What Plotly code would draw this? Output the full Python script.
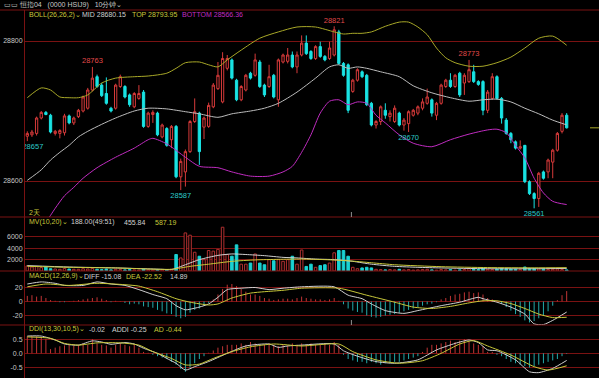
import plotly.graph_objects as go

# ---------------- data ----------------
candle_no = list(range(1, 118))

opens = [28664, 28666, 28668, 28690, 28698, 28694, 28668, 28668, 28669, 28693,
         28683, 28692, 28700, 28704, 28730, 28749, 28737, 28725, 28704, 28704,
         28735, 28735, 28723, 28706, 28718, 28727, 28678, 28695, 28697, 28663,
         28675, 28659, 28678, 28606, 28613, 28642, 28685, 28697, 28677, 28678,
         28706, 28732, 28713, 28761, 28773, 28744, 28716, 28730, 28754, 28751,
         28770, 28737, 28735, 28751, 28716, 28770, 28771, 28780, 28763, 28780,
         28797, 28785, 28775, 28792, 28778, 28775, 28780, 28813, 28768, 28766,
         28728, 28744, 28756, 28751, 28711, 28680, 28685, 28701, 28692, 28685,
         28697, 28680, 28682, 28694, 28697, 28704, 28711, 28716, 28694, 28711,
         28735, 28744, 28735, 28754, 28740, 28742, 28756, 28742, 28742, 28701,
         28718, 28749, 28718, 28687, 28668, 28656, 28647, 28651, 28599, 28582,
         28575, 28613, 28613, 28627, 28644, 28671, 28694]
highs = [28671, 28673, 28692, 28700, 28700, 28696, 28673, 28674, 28696, 28695,
         28692, 28703, 28722, 28733, 28763, 28752, 28740, 28748, 28706, 28739,
         28752, 28737, 28725, 28727, 28737, 28730, 28699, 28701, 28699, 28682,
         28677, 28680, 28680, 28632, 28645, 28687, 28718, 28699, 28692, 28712,
         28740, 28770, 28784, 28780, 28775, 28746, 28737, 28753, 28756, 28782,
         28773, 28739, 28766, 28753, 28775, 28782, 28790, 28785, 28785, 28808,
         28808, 28787, 28794, 28799, 28780, 28799, 28821, 28816, 28770, 28768,
         28746, 28761, 28758, 28753, 28713, 28687, 28708, 28711, 28701, 28708,
         28699, 28690, 28701, 28703, 28708, 28718, 28732, 28718, 28713, 28739,
         28746, 28754, 28753, 28756, 28754, 28773, 28766, 28744, 28744, 28730,
         28754, 28751, 28720, 28690, 28670, 28658, 28658, 28651, 28601, 28584,
         28613, 28615, 28632, 28646, 28670, 28697, 28697]
lows = [28657, 28663, 28665, 28688, 28694, 28668, 28665, 28661, 28665, 28681,
        28680, 28690, 28698, 28702, 28728, 28733, 28720, 28709, 28698, 28702,
        28733, 28718, 28706, 28704, 28716, 28676, 28676, 28683, 28664, 28661,
        28649, 28647, 28604, 28587, 28592, 28640, 28683, 28623, 28660, 28676,
        28704, 28730, 28711, 28758, 28745, 28714, 28714, 28728, 28745, 28749,
        28733, 28720, 28733, 28718, 28706, 28768, 28768, 28761, 28754, 28778,
        28780, 28773, 28773, 28776, 28771, 28773, 28778, 28766, 28749, 28697,
        28726, 28742, 28747, 28707, 28678, 28675, 28680, 28689, 28685, 28683,
        28678, 28672, 28670, 28692, 28694, 28701, 28709, 28692, 28687, 28709,
        28733, 28733, 28733, 28720, 28723, 28740, 28740, 28736, 28694, 28697,
        28716, 28716, 28682, 28666, 28654, 28645, 28645, 28597, 28580, 28561,
        28563, 28602, 28604, 28604, 28642, 28668, 28675]
closes = [28668, 28670, 28690, 28698, 28695, 28670, 28671, 28672, 28693, 28683,
          28690, 28701, 28720, 28730, 28747, 28735, 28722, 28711, 28700, 28737,
          28749, 28720, 28709, 28725, 28725, 28678, 28697, 28698, 28666, 28680,
          28651, 28678, 28606, 28628, 28642, 28685, 28699, 28642, 28690, 28708,
          28737, 28751, 28775, 28775, 28747, 28716, 28735, 28751, 28747, 28773,
          28735, 28723, 28749, 28720, 28773, 28780, 28780, 28763, 28780, 28797,
          28782, 28775, 28792, 28778, 28773, 28790, 28816, 28768, 28751, 28701,
          28744, 28759, 28749, 28709, 28680, 28685, 28706, 28694, 28697, 28704,
          28680, 28687, 28699, 28701, 28706, 28713, 28720, 28697, 28711, 28737,
          28744, 28735, 28751, 28723, 28751, 28759, 28742, 28738, 28701, 28727,
          28749, 28718, 28690, 28668, 28659, 28647, 28649, 28599, 28582, 28575,
          28611, 28604, 28630, 28644, 28668, 28694, 28676]

volumes = [900, 700, 800, 600, 700, 400, 350, 300, 450, 350,
           300, 300, 400, 350, 450, 300, 250, 350, 200, 300,
           250, 200, 250, 200, 150, 300, 200, 150, 250, 200,
           250, 300, 2900, 2300, 6700, 6300, 3300, 2600, 2000, 3600,
           3500, 3800, 7700, 2900, 2600, 4600, 1200, 1200, 1400, 3000,
           1400, 1100, 2000, 1800, 2000, 1700, 2000, 2600, 1200, 3700,
           800, 1200, 650, 950, 1100, 1400, 3200, 3600, 3600, 2600,
           650, 400, 540, 650, 540, 300, 250, 200, 250, 200,
           300, 200, 250, 150, 200, 250, 300, 200, 150, 250,
           200, 250, 150, 200, 250, 400, 300, 250, 500, 300,
           250, 350, 450, 400, 350, 300, 250, 700, 450, 400,
           350, 300, 250, 300, 350, 250, 188]

# Bollinger lines, read at sample candles
top_n = [1, 4, 6, 8, 10, 12, 14, 17, 20, 24, 27, 31, 33, 35, 38, 40, 42, 44, 47, 51,
         55, 59, 63, 67, 69, 71, 73, 75, 78, 81, 83, 85, 87, 89, 91, 93, 96, 99, 102,
         105, 108, 111, 114, 117]
top_v = [28719, 28733, 28730, 28720, 28719, 28719, 28723, 28740, 28747, 28749, 28750,
         28754, 28761, 28769, 28770, 28766, 28763, 28773, 28787, 28804, 28813, 28820,
         28820, 28813, 28810, 28811, 28811, 28813, 28821, 28827, 28827, 28820, 28809,
         28790, 28776, 28769, 28764, 28764, 28769, 28777, 28790, 28804, 28807, 28793.95]
mid_n = [1, 4, 6, 8, 10, 12, 14, 17, 20, 24, 27, 31, 35, 38, 42, 45, 49, 52, 55, 59,
         63, 66, 68, 70, 72, 74, 77, 81, 84, 88, 92, 96, 99, 102, 105, 108, 111, 114, 117]
mid_v = [28601, 28616, 28630, 28641, 28651, 28663, 28671, 28681, 28690, 28700, 28704,
         28703, 28699, 28696, 28691, 28696, 28700, 28704, 28711, 28727, 28747, 28763,
         28766, 28761, 28763, 28761, 28756, 28749, 28736, 28726, 28719, 28714, 28716,
         28717, 28713, 28704, 28696, 28687, 28680.15]
bot_n = [5, 6, 7, 9, 11, 13, 16, 20, 24, 27, 28, 31, 35, 38, 42, 45, 49, 53, 56, 58,
         60, 62, 64, 66, 68, 70, 72, 74, 76, 78, 81, 84, 88, 92, 96, 100, 102, 104,
         106, 108, 110, 112, 114, 117]
bot_v = [28541, 28551, 28561, 28579, 28591, 28604, 28619, 28634, 28647, 28659, 28661,
         28653, 28634, 28621, 28619, 28613, 28607, 28607, 28613, 28621, 28641, 28666,
         28697, 28714, 28716, 28709, 28713, 28711, 28694, 28683, 28666, 28654, 28649,
         28659, 28667, 28673, 28674, 28669, 28651, 28633, 28604, 28583, 28571, 28566.36]

# volume moving averages
mv10_n = [1, 10, 20, 30, 32, 35, 38, 42, 45, 48, 52, 56, 59, 63, 67, 71, 75, 80, 85,
          90, 100, 110, 117]
mv10_v = [950, 700, 540, 300, 250, 1100, 2000, 2750, 3000, 2900, 2700, 2400, 2300,
          2100, 2000, 1700, 1200, 820, 650, 540, 400, 400, 455.84]
mv20_n = [1, 10, 20, 32, 36, 40, 45, 50, 55, 60, 65, 70, 75, 80, 90, 100, 110, 117]
mv20_v = [825, 650, 540, 300, 820, 1200, 1700, 1950, 2050, 2100, 2000, 1800, 1450,
          1100, 760, 600, 560, 587.19]

# MACD
macd_bar = [8, 9, 7, 8, 5, 2, 1, -1, -1, 0.5,
            1, 2, 3, 4, 5, 6, 4, 2, -1, 1,
            0.5, -2, -4, -3, -4, -7, -8, -9, -12, -14,
            -17, -18, -22, -24, -22, -16, -12, -10, -6, -2,
            3, 10, 18, 24, 25, 22, 18, 14, 10, 10,
            8, 5, 4, 2, 3, 4, 4, 3, 5, 7,
            5, 4, 3, 3, 2, 3, 5, 1, -4, -10,
            -13, -15, -16, -20, -22, -23, -22, -20, -19, -18,
            -16, -14, -12, -10, -8, -6, -4, -3, -1, 3,
            5, 8, 10, 11, 13, 14, 12, 13, 10, 5,
            3, 1, -3, -8, -13, -18, -22, -27, -30, -28,
            -24, -20, -14, -6, 2, 9, 14.89]
diff_n = [1, 4, 7, 9, 13, 16, 19, 22, 25, 28, 31, 33, 35, 36, 38, 40, 42, 44, 47, 50,
          53, 56, 60, 67, 70, 73, 75, 78, 82, 85, 90, 94, 98, 99, 102, 105, 108, 110,
          112, 114, 117]
diff_v = [25, 28, 26, 23, 23, 28, 25, 23, 17, 10, 4, -6, -12, -11, -8, -3.5, 6, 17, 19,
          20, 17, 19, 21, 21, 9, 4, -3.5, -13, -17, -13, -6, -1, 6, 4, -1, -8, -18,
          -32, -33, -27, -15.08]
dea_n = [1, 5, 10, 16, 22, 25, 29, 33, 36, 40, 42, 45, 49, 52, 56, 60, 68, 74, 80, 84,
         88, 92, 96, 99, 102, 105, 108, 111, 114, 117]
dea_v = [21, 25, 23, 26, 24, 22, 14, 4, -1, -5, -3.5, 5, 12, 14, 16, 19, 19, 9, -1, -8,
         -10, -7, -2, 1, 1, -3, -10, -18, -23, -22.52]

# DDI
ddi_bar = [0.6, 0.62, 0.6, 0.55, 0.5, 0.15, 0.2, 0.25, 0.28, 0.3,
           0.28, 0.3, 0.35, 0.3, 0.5, 0.35, 0.3, 0.28, 0.2, 0.3,
           0.35, 0.3, 0.25, 0.3, 0.2, 0.05, 0.02, -0.05, -0.1, -0.15,
           -0.2, -0.3, -0.4, -0.55, -0.65, -0.5, -0.35, -0.2, -0.1, 0.02,
           0.1, 0.2, 0.25, 0.3, 0.3, 0.3, 0.35, 0.3, 0.4, 0.35,
           0.25, 0.3, 0.35, 0.3, 0.25, 0.3, 0.28, 0.35, 0.3, 0.35,
           0.3, 0.35, 0.3, 0.3, 0.35, 0.3, 0.4, 0.3, -0.05, -0.2,
           -0.25, -0.3, -0.3, -0.35, -0.3, -0.35, -0.4, -0.35, -0.35, -0.3,
           -0.3, -0.25, -0.2, -0.15, -0.1, 0.05, 0.2, 0.3, 0.3, 0.35,
           0.4, 0.45, 0.4, 0.45, 0.5, 0.4, 0.35, 0.3, 0.25, 0.05,
           0.05, -0.05, -0.1, -0.2, -0.3, -0.35, -0.4, -0.45, -0.5, -0.45,
           -0.4, -0.35, -0.3, -0.25, -0.2, -0.1, -0.02]
addi_n = [1, 4, 7, 9, 12, 15, 17, 19, 22, 24, 26, 29, 31, 33, 35, 37, 40, 44, 48, 53,
          55, 57, 60, 67, 69, 72, 76, 80, 85, 89, 93, 96, 98, 100, 102, 106, 109, 111,
          114, 117]
addi_v = [0.61, 0.61, 0.47, 0.33, 0.29, 0.44, 0.40, 0.32, 0.38, 0.33, 0.18, 0.0, -0.18,
          -0.35, -0.59, -0.47, -0.29, 0.0, 0.26, 0.33, 0.21, 0.26, 0.29, 0.33, 0.09,
          -0.1, -0.29, -0.35, -0.23, 0.12, 0.35, 0.47, 0.38, 0.12, 0.09, -0.23, -0.65,
          -0.68, -0.53, -0.25]
ad_n = [1, 6, 9, 12, 16, 21, 25, 28, 32, 35, 38, 41, 45, 49, 54, 60, 68, 71, 76, 81,
        86, 90, 94, 97, 100, 105, 110, 113, 117]
ad_v = [0.58, 0.53, 0.35, 0.29, 0.37, 0.37, 0.29, 0.06, -0.18, -0.41, -0.38, -0.18,
        0.06, 0.23, 0.33, 0.26, 0.33, 0.06, -0.23, -0.35, -0.26, 0.0, 0.33, 0.45, 0.26,
        -0.06, -0.47, -0.59, -0.44]

# marked extremes (candle numbers)
high_marks = [15, 67, 96]
low_marks = [1, 34, 83, 110]

price_ticks = [28600, 28800]
price_ticktext = ["28600", "28800"]
vol_ticks = [2000, 4000, 6000]
vol_ticktext = ["2000", "4000", "6000"]
macd_ticks = [-20, 0, 20]
macd_ticktext = ["-20", "0", "20"]
ddi_ticks = [-0.5, 0.0, 0.5]
ddi_ticktext = ["-0.5", "0.0", "0.5"]

# ---------------- styling ----------------
W, H = 599, 378
UP = "#d63a3a"
DN = "#19e3e3"
UP_V = "#b03030"
DN_V = "#1ad2d2"
GRID = "#7a1212"
TXT = "#c8c8c8"
YEL = "#c8c83a"
TOPC = "#a8a828"
MAG = "#c02cc0"
WHT = "#d0d0d0"
MIDC = "#bcbcbc"
FONT = "Liberation Sans"


def px_y(p):
    return 1 - p / H


def px_x(p):
    return p / W


fig = go.Figure()

# main candles
fig.add_trace(go.Candlestick(
    x=candle_no, open=opens, high=highs, low=lows, close=closes,
    increasing=dict(line=dict(color=UP, width=1), fillcolor="#000000"),
    decreasing=dict(line=dict(color=DN, width=1), fillcolor=DN),
    whiskerwidth=0, xaxis="x", yaxis="y"))

for xs, ys, col in [(top_n, top_v, TOPC), (mid_n, mid_v, MIDC), (bot_n, bot_v, MAG)]:
    fig.add_trace(go.Scatter(x=xs, y=ys, mode="lines",
                             line=dict(color=col, width=1, shape="spline", smoothing=0.7),
                             xaxis="x", yaxis="y"))

# extreme labels (clipped to the plot area like the original)
for k in high_marks:
    fig.add_trace(go.Scatter(x=[k], y=[highs[k - 1] + 8], text=[str(highs[k - 1])],
                             mode="text", textposition="middle center", cliponaxis=True,
                             textfont=dict(color="#e04a4a", size=7.5, family=FONT),
                             xaxis="x", yaxis="y"))
for k in low_marks:
    fig.add_trace(go.Scatter(x=[k + (1.2 if k == 1 else 0)], y=[lows[k - 1] - 8.5],
                             text=[str(lows[k - 1])],
                             mode="text", textposition="middle center", cliponaxis=True,
                             textfont=dict(color="#2cc8c8", size=7.5, family=FONT),
                             xaxis="x", yaxis="y"))

# volume
is_up = [c >= o for o, c in zip(opens, closes)]
fig.add_trace(go.Bar(
    x=candle_no, y=volumes, width=0.55,
    marker=dict(color=["#000000" if u else DN_V for u in is_up],
                line=dict(color=[UP_V if u else DN_V for u in is_up], width=1)),
    xaxis="x", yaxis="y2"))
fig.add_trace(go.Scatter(x=mv10_n, y=mv10_v, mode="lines",
                         line=dict(color=WHT, width=1, shape="spline", smoothing=0.6),
                         xaxis="x", yaxis="y2"))
fig.add_trace(go.Scatter(x=mv20_n, y=mv20_v, mode="lines",
                         line=dict(color=YEL, width=1, shape="spline", smoothing=0.6),
                         xaxis="x", yaxis="y2"))


def stems(values, positive):
    xs, ys = [], []
    for k, v in zip(candle_no, values):
        if (v > 0) == positive and v != 0:
            xs += [k, k, None]
            ys += [0, v, None]
    return xs, ys


for vals, ax in [(macd_bar, "y3"), (ddi_bar, "y4")]:
    for pos, col in [(True, "#c03434"), (False, "#23aaaa")]:
        xs, ys = stems(vals, pos)
        fig.add_trace(go.Scatter(x=xs, y=ys, mode="lines", line=dict(color=col, width=1),
                                 xaxis="x", yaxis=ax))

fig.add_trace(go.Scatter(x=diff_n, y=diff_v, mode="lines",
                         line=dict(color=WHT, width=1, shape="spline", smoothing=0.6),
                         xaxis="x", yaxis="y3"))
fig.add_trace(go.Scatter(x=dea_n, y=dea_v, mode="lines",
                         line=dict(color=YEL, width=1, shape="spline", smoothing=0.6),
                         xaxis="x", yaxis="y3"))
fig.add_trace(go.Scatter(x=addi_n, y=addi_v, mode="lines",
                         line=dict(color=WHT, width=1, shape="spline", smoothing=0.6),
                         xaxis="x", yaxis="y4"))
fig.add_trace(go.Scatter(x=ad_n, y=ad_v, mode="lines",
                         line=dict(color=YEL, width=1, shape="spline", smoothing=0.6),
                         xaxis="x", yaxis="y4"))

# ---------------- layout ----------------
XD = [px_x(25), 1]


def yax(dom, rng, tv, tt):
    return dict(domain=dom, range=rng, tickvals=tv, ticktext=tt, anchor="x",
                showgrid=True, gridcolor=GRID, gridwidth=1, zeroline=False,
                showline=True, linecolor=GRID, linewidth=1, ticks="",
                tickfont=dict(color=TXT, size=7, family=FONT), fixedrange=True)


fig.update_layout(
    width=W, height=H, margin=dict(l=0, r=0, t=0, b=0, pad=0),
    paper_bgcolor="#000000", plot_bgcolor="#000000", showlegend=False,
    hovermode=False,
    font=dict(family=FONT, size=7, color=TXT),
    xaxis=dict(domain=XD, range=[0.505, 123.95], showticklabels=False, showgrid=False,
               zeroline=False, showline=False, ticks="", fixedrange=True,
               rangeslider=dict(visible=False),
               tickfont=dict(color=TXT, size=7, family=FONT)),
    yaxis=yax([px_y(217), px_y(10)], [28548.6, 28844.3], price_ticks, price_ticktext),
    yaxis2=yax([px_y(271), px_y(217)], [0, 9500], vol_ticks, vol_ticktext),
    yaxis3=yax([px_y(325), px_y(271)], [-33.6, 43.6], macd_ticks, macd_ticktext),
    yaxis4=yax([0, px_y(325)], [-0.87, 1.0], ddi_ticks, ddi_ticktext),
)

shapes = []
for yy in [10, 217, 271, 325]:
    shapes.append(dict(type="line", xref="paper", yref="paper", x0=0, x1=1,
                       y0=px_y(yy), y1=px_y(yy), line=dict(color=GRID, width=1)))
# last price marker in right margin
shapes.append(dict(type="line", xref="paper", yref="y", x0=px_x(590), x1=1,
                   y0=closes[-1], y1=closes[-1], line=dict(color=TOPC, width=1)))
# session separator ticks
for y0, y1 in [(212, 217), (320, 325)]:
    shapes.append(dict(type="line", xref="x", yref="paper", x0=70.7, x1=70.7,
                       y0=px_y(y1), y1=px_y(y0), line=dict(color="#909090", width=1)))
fig.update_layout(shapes=shapes)

ann = []


def label(text, x, y, color, size=7):
    ann.append(dict(text=text, x=px_x(x), y=px_y(y), xref="paper", yref="paper",
                    xanchor="left", yanchor="middle", showarrow=False,
                    font=dict(color=color, size=size, family=FONT)))


label("▭▭ 恒指04 &nbsp; (0000 HSIJ9) &nbsp; 10分钟⌄", 2, 5, TXT, 7)
label("BOLL(26,26,2)⌄", 27, 14.5, YEL)
label("MID 28680.15", 80, 14.5, WHT)
label("TOP 28793.95", 130, 14.5, YEL)
label("BOTTOM 28566.36", 180, 14.5, MAG)
label("2天", 27, 212, YEL)
label("MV(10,20)⌄", 27, 222, YEL)
label("188.00(49:51)", 69, 222, WHT)
label("455.84", 122, 222, WHT)
label("587.19", 153, 222, YEL)
label("MACD(12,26,9)⌄", 27, 276, YEL)
label("DIFF -15.08", 82, 276, WHT)
label("DEA -22.52", 124, 276, YEL)
label("14.89", 168, 276, WHT)
label("DDI(13,30,10,5)⌄", 27, 329, YEL)
label("-0.02", 87, 329, WHT)
label("ADDI -0.25", 110, 329, WHT)
label("AD -0.44", 152, 329, YEL)
fig.update_layout(annotations=ann)

fig.write_html("out.html", config={"displayModeBar": False, "staticPlot": True},
               post_script="document.body.style.margin='0px';document.body.style.overflow='hidden';")
